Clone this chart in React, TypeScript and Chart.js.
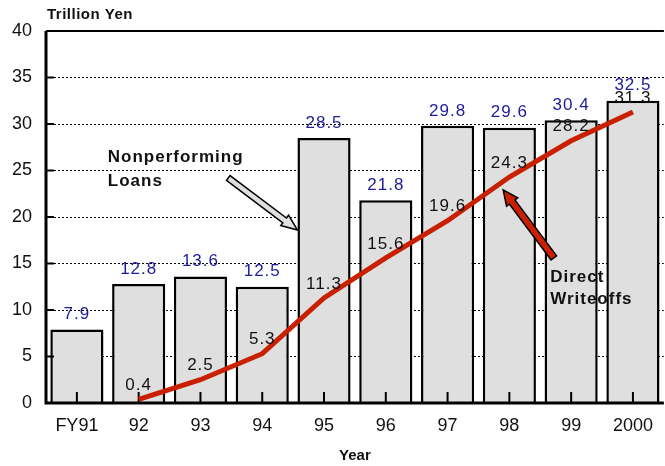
import React, { useEffect, useRef } from "react";
import { Chart, registerables } from "chart.js";

Chart.register(...registerables);

const categories = ["FY91", "92", "93", "94", "95", "96", "97", "98", "99", "2000"];
const nonperformingLoans = [7.9, 12.8, 13.6, 12.5, 28.5, 21.8, 29.8, 29.6, 30.4, 32.5];
const directWriteoffs: (number | null)[] = [null, 0.4, 2.5, 5.3, 11.3, 15.6, 19.6, 24.3, 28.2, 31.3];
const yTicks = [0, 5, 10, 15, 20, 25, 30, 35, 40];

const FONT = "Arial, 'Liberation Sans', sans-serif";
const LINE_RED = "#c82000";
const LABEL_BLUE = "#1c1c96";

function drawArrow(ctx: CanvasRenderingContext2D, x1: number, y1: number, x2: number, y2: number, fill: string, shaftW: number, headW: number, headL: number) {
  const dx = x2 - x1, dy = y2 - y1;
  const len = Math.hypot(dx, dy);
  const ux = dx / len, uy = dy / len;
  const px = -uy, py = ux;
  const bx = x2 - ux * headL, by = y2 - uy * headL;
  const pts = [
    [x1 + px * shaftW / 2, y1 + py * shaftW / 2],
    [bx + px * shaftW / 2, by + py * shaftW / 2],
    [bx + px * headW / 2, by + py * headW / 2],
    [x2, y2],
    [bx - px * headW / 2, by - py * headW / 2],
    [bx - px * shaftW / 2, by - py * shaftW / 2],
    [x1 - px * shaftW / 2, y1 - py * shaftW / 2],
  ];
  ctx.beginPath();
  pts.forEach((p, i) => (i === 0 ? ctx.moveTo(p[0], p[1]) : ctx.lineTo(p[0], p[1])));
  ctx.closePath();
  ctx.fillStyle = fill;
  ctx.fill();
  ctx.lineWidth = 1.5;
  ctx.strokeStyle = "#000";
  ctx.lineJoin = "miter";
  ctx.stroke();
}

const decorPlugin = {
  id: "decor",
  beforeDraw(chart: any) {
    (chart.ctx as any).letterSpacing = "0px";
  },
  afterDatasetDraw(chart: any, args: any) {
    if (args.index !== 0) return;
    const { ctx, chartArea, scales } = chart;
    const x = scales.x;
    ctx.save();
    ctx.strokeStyle = "#000";
    ctx.lineWidth = 2;
    categories.forEach((_, i) => {
      const px = x.getPixelForValue(i);
      ctx.beginPath();
      ctx.moveTo(px, chartArea.bottom);
      ctx.lineTo(px, chartArea.bottom - 11);
      ctx.stroke();
    });
    ctx.restore();
  },
  afterDatasetsDraw(chart: any) {
    const { ctx, chartArea, scales } = chart;
    const x = scales.x, y = scales.y;
    ctx.save();
    // axes
    ctx.strokeStyle = "#000";
    ctx.lineWidth = 3;
    ctx.beginPath();
    ctx.moveTo(chartArea.left, chartArea.top);
    ctx.lineTo(chartArea.left, chartArea.bottom);
    ctx.lineTo(chartArea.right, chartArea.bottom);
    ctx.stroke();
    ctx.lineWidth = 2;
    ctx.beginPath();
    ctx.moveTo(chartArea.left, chartArea.top);
    ctx.lineTo(chartArea.right, chartArea.top);
    ctx.stroke();
    // y inner ticks
    ctx.lineWidth = 2;
    yTicks.forEach((v) => {
      const py = y.getPixelForValue(v);
      ctx.beginPath();
      ctx.moveTo(chartArea.left, py);
      ctx.lineTo(chartArea.left + 8, py);
      ctx.stroke();
    });

    // bar labels
    (ctx as any).letterSpacing = "1px";
    ctx.font = `17px ${FONT}`;
    ctx.textAlign = "center";
    ctx.textBaseline = "middle";
    ctx.fillStyle = LABEL_BLUE;
    nonperformingLoans.forEach((v, i) => {
      ctx.fillText(v.toFixed(1), x.getPixelForValue(i), y.getPixelForValue(v) - 15);
    });
    // line labels
    ctx.fillStyle = "#111";
    directWriteoffs.forEach((v, i) => {
      if (v == null) return;
      ctx.fillText(v.toFixed(1), x.getPixelForValue(i), y.getPixelForValue(v) - 14);
    });

    // annotations
    (ctx as any).letterSpacing = "1px";
    ctx.font = `bold 17px ${FONT}`;
    ctx.textAlign = "left";
    ctx.fillStyle = "#111";
    ctx.fillText("Nonperforming", x.getPixelForValue(0.5), y.getPixelForValue(26.45));
    ctx.fillText("Loans", x.getPixelForValue(0.5), y.getPixelForValue(23.8));
    ctx.fillText("Direct", x.getPixelForValue(7.66), y.getPixelForValue(13.5));
    ctx.fillText("Writeoffs", x.getPixelForValue(7.66), y.getPixelForValue(11.2));

    drawArrow(ctx, x.getPixelForValue(2.45), y.getPixelForValue(24.2), x.getPixelForValue(3.57), y.getPixelForValue(18.6), "#e0e0e0", 6, 13, 16);
    drawArrow(ctx, x.getPixelForValue(7.72), y.getPixelForValue(15.6), x.getPixelForValue(6.9), y.getPixelForValue(22.9), LINE_RED, 7, 14, 15);

    // unit title
    (ctx as any).letterSpacing = "0.5px";
    ctx.font = `bold 15px ${FONT}`;
    ctx.textAlign = "left";
    ctx.fillStyle = "#111";
    ctx.fillText("Trillion Yen", chartArea.left + 1, 15);
    ctx.restore();
  },
};

export default function App() {
  const ref = useRef<HTMLCanvasElement | null>(null);
  useEffect(() => {
    if (!ref.current) return;
    const chart = new Chart(ref.current, {
      type: "bar",
      data: {
        labels: categories,
        datasets: [
          {
            type: "bar",
            label: "Nonperforming Loans",
            data: nonperformingLoans,
            backgroundColor: "#dfdfdf",
            borderColor: "#000",
            borderWidth: 2.5,
            barPercentage: 0.86,
            categoryPercentage: 1,
            order: 2,
          },
          {
            type: "line",
            label: "Direct Writeoffs",
            data: directWriteoffs,
            borderColor: LINE_RED,
            borderWidth: 5,
            pointRadius: 0,
            tension: 0,
            spanGaps: false,
            order: 1,
          } as any,
        ],
      },
      options: {
        animation: false,
        responsive: false,
        maintainAspectRatio: false,
        layout: { padding: { top: 31, right: 1, left: 0, bottom: 0 } },
        plugins: { legend: { display: false }, tooltip: { enabled: false } },
        scales: {
          x: {
            grid: { display: false, drawTicks: false },
            border: { display: false },
            ticks: { color: "#111", font: { family: FONT, size: 18 }, padding: 12 },
            title: { display: true, text: "Year", color: "#111", font: { family: FONT, size: 15, weight: "bold" }, padding: { top: 0, bottom: 1 } },
            afterFit: (s: any) => { s.height = 63; },
          },
          y: {
            min: 0,
            max: 40,
            ticks: { stepSize: 5, color: "#111", font: { family: FONT, size: 18 }, padding: 14 },
            grid: { color: "#000", lineWidth: 1, drawTicks: false },
            border: { display: false, dash: [2, 2] },
            afterFit: (s: any) => { s.width = 46; },
          },
        },
      },
      plugins: [decorPlugin],
    });
    return () => chart.destroy();
  }, []);
  return (
    <div style={{ position: "fixed", left: 0, top: 0, width: 665, height: 466, background: "#fff" }}>
      <canvas ref={ref} width={665} height={466} style={{ width: 665, height: 466 }} />
    </div>
  );
}
